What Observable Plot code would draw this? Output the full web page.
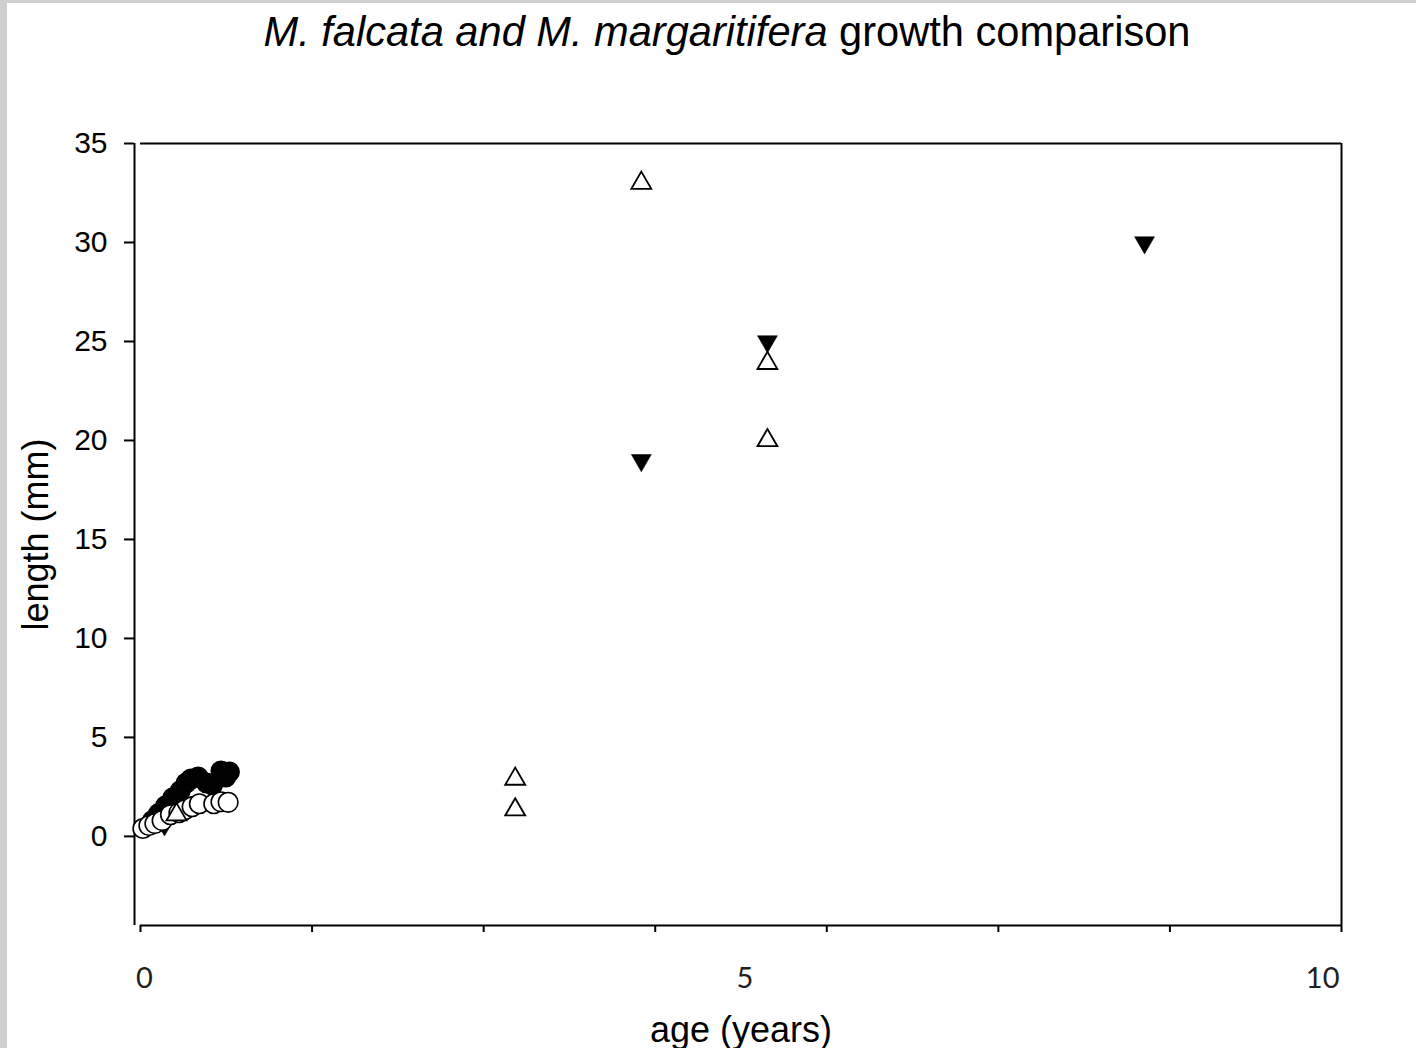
<!DOCTYPE html>
<html>
<head>
<meta charset="utf-8">
<script src="https://cdn.jsdelivr.net/npm/d3@7"></script>
<script src="https://cdn.jsdelivr.net/npm/@observablehq/plot@0.6"></script>
<style>
  html, body { margin: 0; padding: 0; }
  body { width: 1416px; height: 1048px; background: #cfcfcf; position: relative; overflow: hidden; }
  #page { position: absolute; left: 7px; top: 3px; width: 1409px; height: 1045px; background: #ffffff; }
  #title { height: 60px; line-height: 58px; font-family: "Liberation Sans", Arial, sans-serif; font-size: 41.6px; color: #000; text-align: center; padding-left: 31px; box-sizing: border-box; white-space: nowrap; }
  #chart svg { display: block; }
</style>
</head>
<body>
<div id="page">
  <div id="title"><i>M. falcata and M. margaritifera</i> growth comparison</div>
  <div id="chart"></div>
</div>
<script>
// Filled circles series (age in years, length in mm)
const filledCircleAge = [0.10, 0.15, 0.21, 0.27, 0.33, 0.38, 0.42, 0.48, 0.55, 0.60, 0.67, 0.71, 0.74];
const filledCircleLen = [0.80, 1.15, 1.55, 1.95, 2.30, 2.70, 2.90, 3.00, 2.70, 2.60, 3.30, 3.00, 3.25];

// Open circles series
const openCircleAge = [0.02, 0.07, 0.12, 0.18, 0.25, 0.32, 0.37, 0.43, 0.49, 0.61, 0.67, 0.73];
const openCircleLen = [0.40, 0.55, 0.65, 0.80, 1.10, 1.20, 1.35, 1.50, 1.65, 1.65, 1.75, 1.72];

// Open upward triangles series
const openTriAge = [0.30, 3.12, 3.12, 4.17, 5.22, 5.22];
const openTriLen = [1.10, 2.90, 1.35, 33.0, 23.9, 20.0];

// Filled downward triangles series
const filledTriAge = [0.20, 4.17, 5.22, 8.36];
const filledTriLen = [0.60, 19.0, 25.0, 30.0];

// Axis ticks and labels
const yTicks = [0, 5, 10, 15, 20, 25, 30, 35];
const xTickMarks = d3.range(0, 8).map(i => i * 10 / 7);
const xLabelsMid = [0, 5];
const xLabelsEnd = [10];
const xTitle = "age (years)";
const yTitle = "length (mm)";

const toRows = (xs, ys) => xs.map((x, i) => ({x, y: ys[i]}));
const filledCircles = toRows(filledCircleAge, filledCircleLen);
const openCircles = toRows(openCircleAge, openCircleLen);
const openTris = toRows(openTriAge, openTriLen);
const filledTris = toRows(filledTriAge, filledTriLen);

const font = "'Liberation Sans', Arial, sans-serif";
const tickFont = "Lato, 'Open Sans', sans-serif";

const chart = Plot.plot({
  width: 1409,
  height: 985,
  marginLeft: 133,
  marginRight: 75,
  marginTop: 80,
  marginBottom: 123,
  style: {fontFamily: font, fontSize: "30px", background: "white", color: "black", overflow: "visible"},
  x: {domain: [0, 10], label: null},
  y: {domain: [-4.5, 35], label: null},
  marks: [
    Plot.ruleY([35, -4.5], {stroke: "black", strokeWidth: 2}),
    Plot.ruleX([10], {y1: -4.5, y2: 35, stroke: "black", strokeWidth: 2}),
    Plot.ruleX([0], {y1: -4.5, y2: 35, dx: -6, stroke: "black", strokeWidth: 2}),
    Plot.axisY({ticks: yTicks, tickSize: 10, tickPadding: 17, dx: -6, strokeWidth: 2, label: null, fontSize: 30, fill: "black"}),
    Plot.axisX({ticks: xTickMarks, tickSize: 7, strokeWidth: 2, tickFormat: () => "", label: null}),
    Plot.text(xLabelsMid, {x: d => d, frameAnchor: "bottom", dy: 53, dx: 4, text: d => String(d), textAnchor: "middle", lineAnchor: "middle", fontFamily: tickFont, fontSize: 29, fill: "#231f20", style: "font-variant-numeric: oldstyle-nums"}),
    Plot.text(xLabelsEnd, {x: d => d, frameAnchor: "bottom", dy: 53, dx: -2, text: d => String(d), textAnchor: "end", lineAnchor: "middle", fontFamily: tickFont, fontSize: 29, fill: "#231f20"}),
    Plot.text([xTitle], {frameAnchor: "bottom", dy: 116, text: d => d, textAnchor: "middle", lineAnchor: "bottom", fontSize: 36, fill: "black"}),
    Plot.text([yTitle], {frameAnchor: "left", dx: -104, text: d => d, rotate: -90, textAnchor: "middle", lineAnchor: "middle", fontSize: 36, fill: "black"}),
    Plot.dot(filledCircles, {x: "x", y: "y", r: 9.8, fill: "black", stroke: "black", strokeWidth: 1.5}),
    Plot.dot(filledTris, {x: "x", y: "y", r: 7.4, symbol: "triangle", rotate: 180, fill: "black", stroke: "black", strokeWidth: 0.5}),
    Plot.dot(openCircles, {x: "x", y: "y", r: 9.8, fill: "white", stroke: "black", strokeWidth: 1.6}),
    Plot.dot(openTris, {x: "x", y: "y", r: 7.4, symbol: "triangle", fill: "white", stroke: "black", strokeWidth: 1.8})
  ]
});
document.getElementById("chart").appendChild(chart);
</script>
</body>
</html>
